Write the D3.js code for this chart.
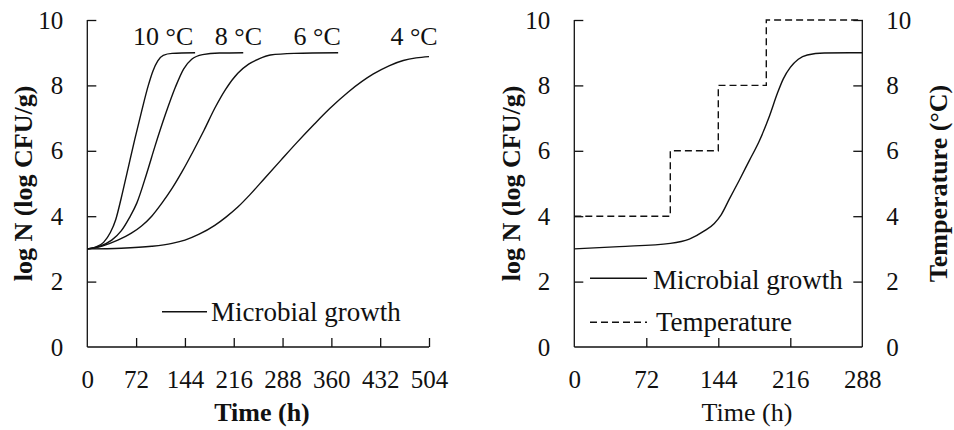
<!DOCTYPE html>
<html>
<head>
<meta charset="utf-8">
<script src="https://cdn.jsdelivr.net/npm/d3@7"></script>
<style>
  html, body { margin: 0; padding: 0; background: #fff; }
  svg { display: block; }
  text { font-family: "Liberation Serif", "Times New Roman", serif; fill: #111; }
</style>
</head>
<body>
<svg id="chart" width="954" height="430"></svg>
<script>
// ---- Isothermal growth curves (log N vs time) ----
const t10C = [0, 12, 24, 34, 42, 50, 60, 70, 80, 90, 97, 104, 112, 125, 159];
const n10C = [3.0, 3.05, 3.2, 3.5, 3.9, 4.55, 5.45, 6.35, 7.2, 8.0, 8.45, 8.75, 8.92, 8.98, 9.0];

const t8C = [0, 18, 36, 50, 62, 73, 87.5, 100, 115, 130, 142, 154, 170, 195, 230];
const n8C = [3.0, 3.08, 3.27, 3.55, 3.95, 4.4, 5.3, 6.15, 7.1, 7.95, 8.5, 8.8, 8.94, 8.99, 9.0];

const t6C = [0, 22, 45, 65, 80, 95, 110, 125, 140, 156, 172, 188, 204, 222, 238, 252, 270, 305, 370];
const n6C = [3.0, 3.09, 3.27, 3.48, 3.7, 4.0, 4.4, 4.85, 5.37, 5.98, 6.62, 7.3, 7.88, 8.37, 8.65, 8.8, 8.93, 8.98, 9.0];

const t4C = [0, 50, 95, 125, 144, 165, 188, 205, 222, 240, 262, 285, 309, 335, 358, 385, 422, 445, 466, 485, 504];
const n4C = [3.0, 3.02, 3.08, 3.17, 3.27, 3.45, 3.72, 3.98, 4.28, 4.66, 5.17, 5.7, 6.25, 6.82, 7.3, 7.8, 8.35, 8.6, 8.76, 8.84, 8.88];

const isoLabels = ["10 °C", "8 °C", "6 °C", "4 °C"];
const isoTicksX = [0, 72, 144, 216, 288, 360, 432, 504];

// ---- Dynamic temperature profile ----
const tDyn = [0, 45, 96, 115, 130, 140, 147, 155, 165, 175, 185, 195, 203, 209, 216, 224, 233, 250, 288];
const nDyn = [3.0, 3.07, 3.17, 3.3, 3.55, 3.78, 4.05, 4.52, 5.1, 5.7, 6.3, 7.05, 7.75, 8.2, 8.55, 8.8, 8.93, 8.99, 9.0];

const stepHours = [0, 96, 144, 192, 288];
const stepTemps = [4, 6, 8, 10, 10];
const dynTicksX = [0, 72, 144, 216, 288];

const yTicks = [0, 2, 4, 6, 8, 10];

const svg = d3.select("#chart");
const TICK = 9, PAD = 24;
const plotTop = 20, plotBottom = 347;

function styleAxis(g, size) {
  g.selectAll("path, line").attr("stroke", "#111").attr("stroke-width", 1.3);
  g.selectAll("text").attr("font-size", size).attr("fill", "#111")
    .style("font-family", '"Liberation Serif", "Times New Roman", serif');
}

const y = d3.scaleLinear().domain([0, 10]).range([plotBottom, plotTop]);

// ================= Left panel =================
const xL = d3.scaleLinear().domain([0, 504]).range([87.3, 429]);
const left = svg.append("g");

left.append("g").attr("transform", `translate(0,${plotBottom})`)
  .call(d3.axisBottom(xL).tickValues(isoTicksX).tickSizeInner(-TICK).tickSizeOuter(0).tickPadding(23))
  .call(g => styleAxis(g, 25))
  .call(g => g.select(".domain").attr("d", `M${xL(0)},0H${xL(504)}`))
  .call(g => g.selectAll(".tick").filter(d => d === 0).select("line").remove());

left.append("g").attr("transform", `translate(${xL(0)},0)`)
  .call(d3.axisLeft(y).tickValues(yTicks).tickSizeInner(-TICK).tickSizeOuter(0).tickPadding(PAD))
  .call(g => styleAxis(g, 25))
  .call(g => g.select(".domain").attr("d", `M0,${y(10)}V${y(0)}`))
  .call(g => g.selectAll(".tick").filter(d => d === 0).select("line").remove());

const line = (xs) => d3.line().x(d => xs(d[0])).y(d => y(d[1])).curve(d3.curveMonotoneX);
const zip = (a, b) => a.map((v, i) => [v, b[i]]);

const isoSeries = [zip(t10C, n10C), zip(t8C, n8C), zip(t6C, n6C), zip(t4C, n4C)];
left.selectAll("path.iso").data(isoSeries).join("path")
  .attr("class", "iso")
  .attr("d", line(xL))
  .attr("fill", "none").attr("stroke", "#111").attr("stroke-width", 1.4);

// curve labels sit above the stationary phase of each curve
const labelHours = [112, 223, 339, 482];
left.selectAll("text.iso-label").data(isoLabels).join("text")
  .attr("class", "iso-label")
  .attr("x", (d, i) => xL(labelHours[i]))
  .attr("y", 45)
  .attr("text-anchor", "middle")
  .attr("font-size", 26)
  .text(d => d);

// legend
left.append("line").attr("x1", 162).attr("x2", 207).attr("y1", 311.7).attr("y2", 311.7)
  .attr("stroke", "#111").attr("stroke-width", 1.4);
left.append("text").attr("x", 211).attr("y", 320.5).attr("font-size", 27).text("Microbial growth");

// axis titles
left.append("text").attr("x", 262).attr("y", 421).attr("text-anchor", "middle")
  .attr("font-size", 26).attr("font-weight", "bold").text("Time (h)");
left.append("text").attr("transform", `translate(32,${(plotTop + plotBottom) / 2}) rotate(-90)`)
  .attr("text-anchor", "middle").attr("font-size", 26).attr("font-weight", "bold")
  .text("log N (log CFU/g)");

// ================= Right panel =================
const xR = d3.scaleLinear().domain([0, 288]).range([574.3, 862.3]);
const yT = d3.scaleLinear().domain([0, 10]).range([plotBottom, plotTop]);
const right = svg.append("g");

right.append("g").attr("transform", `translate(0,${plotBottom})`)
  .call(d3.axisBottom(xR).tickValues(dynTicksX).tickSizeInner(-TICK).tickSizeOuter(0).tickPadding(23))
  .call(g => styleAxis(g, 25))
  .call(g => g.select(".domain").attr("d", `M${xR(0)},0H${xR(288)}`))
  .call(g => g.selectAll(".tick").filter(d => d === 0 || d === 288).select("line").remove());

right.append("g").attr("transform", `translate(${xR(0)},0)`)
  .call(d3.axisLeft(y).tickValues(yTicks).tickSizeInner(-TICK).tickSizeOuter(0).tickPadding(PAD))
  .call(g => styleAxis(g, 25))
  .call(g => g.select(".domain").attr("d", `M0,${y(10)}V${y(0)}`))
  .call(g => g.selectAll(".tick").filter(d => d === 0).select("line").remove());

right.append("g").attr("transform", `translate(${xR(288)},0)`)
  .call(d3.axisRight(yT).tickValues(yTicks).tickSizeInner(-TICK).tickSizeOuter(0).tickPadding(PAD))
  .call(g => styleAxis(g, 25))
  .call(g => g.select(".domain").attr("d", `M0,${yT(10)}V${yT(0)}`))
  .call(g => g.selectAll(".tick").filter(d => d === 0).select("line").remove());

right.append("path").datum(zip(tDyn, nDyn))
  .attr("d", line(xR))
  .attr("fill", "none").attr("stroke", "#111").attr("stroke-width", 1.4);

right.append("path").datum(zip(stepHours, stepTemps))
  .attr("d", d3.line().x(d => xR(d[0])).y(d => yT(d[1])).curve(d3.curveStepAfter))
  .attr("fill", "none").attr("stroke", "#111").attr("stroke-width", 1.4)
  .attr("stroke-dasharray", "7,4");

// legend
right.append("line").attr("x1", 590).attr("x2", 647).attr("y1", 278.3).attr("y2", 278.3)
  .attr("stroke", "#111").attr("stroke-width", 1.4);
right.append("text").attr("x", 653).attr("y", 288.5).attr("font-size", 27).text("Microbial growth");
right.append("line").attr("x1", 590).attr("x2", 647).attr("y1", 322.3).attr("y2", 322.3)
  .attr("stroke", "#111").attr("stroke-width", 1.4).attr("stroke-dasharray", "7,4");
right.append("text").attr("x", 656).attr("y", 331).attr("font-size", 27).text("Temperature");

// axis titles
right.append("text").attr("x", 747).attr("y", 421).attr("text-anchor", "middle")
  .attr("font-size", 26).text("Time (h)");
right.append("text").attr("transform", `translate(520,${(plotTop + plotBottom) / 2}) rotate(-90)`)
  .attr("text-anchor", "middle").attr("font-size", 26).attr("font-weight", "bold")
  .text("log N (log CFU/g)");
right.append("text").attr("transform", `translate(947,${(plotTop + plotBottom) / 2}) rotate(-90)`)
  .attr("text-anchor", "middle").attr("font-size", 26).attr("font-weight", "bold")
  .text("Temperature (°C)");
</script>
</body>
</html>
